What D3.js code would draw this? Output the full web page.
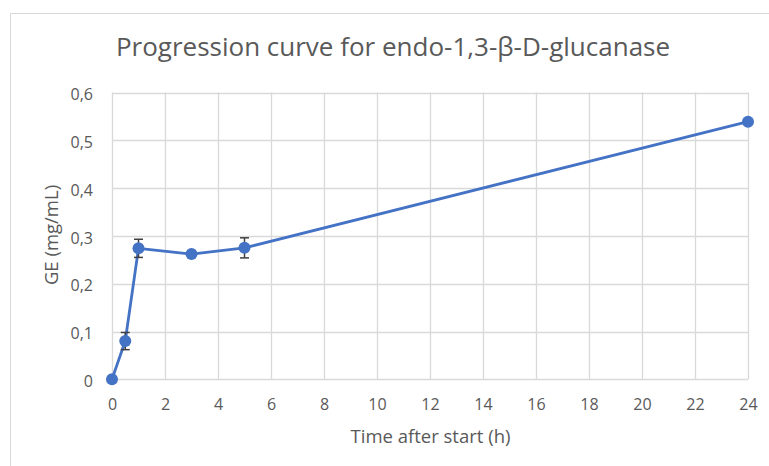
<!DOCTYPE html>
<html>
<head>
<meta charset="utf-8">
<script src="https://cdn.jsdelivr.net/npm/d3@7"></script>
<style>
  html, body { margin: 0; padding: 0; background: #fff; }
  svg { display: block; font-family: "Open Sans", "Noto Sans", sans-serif; }
</style>
</head>
<body>
<svg id="chart" width="769" height="466"></svg>
<script>
// Measurements of GE released over time
const times = [0, 0.5, 1, 3, 5, 24];
const geValues = [0, 0.08, 0.274, 0.262, 0.275, 0.539];
const geErrors = [0, 0.018, 0.019, 0, 0.021, 0];
const xTicks = [0, 2, 4, 6, 8, 10, 12, 14, 16, 18, 20, 22, 24];
const yTicks = [0, 0.1, 0.2, 0.3, 0.4, 0.5, 0.6];

const titleText = "Progression curve for endo-1,3-β-D-glucanase";
const xTitle = "Time after start (h)";
const yTitle = "GE (mg/mL)";

const svg = d3.select("#chart");
const textColor = "#595959";
const gridColor = "#d9d9d9";
const lineColor = "#4472c4";
const font = '"Open Sans", sans-serif';

// Outer chart frame
svg.append("path")
  .attr("d", "M10.5,470 V13.5 H780")
  .attr("fill", "none")
  .attr("stroke", gridColor)
  .attr("stroke-width", 1);

const x = d3.scaleLinear().domain([0, 24]).range([112, 748]);
const y = d3.scaleLinear().domain([0, 0.6]).range([379.3, 92.5]);

const fmt = d => d === 0 ? "0" : d3.format(".1f")(d).replace(".", ",");

// Gridlines
svg.append("g").selectAll("line").data(yTicks).join("line")
  .attr("x1", x(0)).attr("x2", x(24))
  .attr("y1", d => Math.round(y(d)) + 0.5).attr("y2", d => Math.round(y(d)) + 0.5)
  .attr("stroke", gridColor).attr("stroke-width", 1.3);
svg.append("g").selectAll("line").data(xTicks).join("line")
  .attr("y1", y(0)).attr("y2", y(0.6))
  .attr("x1", d => Math.round(x(d)) + 0.5).attr("x2", d => Math.round(x(d)) + 0.5)
  .attr("stroke", gridColor).attr("stroke-width", 1.3);

// Axes built from the scales, domain lines removed to keep the light grid look
const xAxis = svg.append("g")
  .attr("transform", `translate(0,${y(0)})`)
  .call(d3.axisBottom(x).tickValues(xTicks).tickSize(0).tickPadding(0).tickFormat(d3.format("d")));
const yAxis = svg.append("g")
  .attr("transform", `translate(${x(0)},0)`)
  .call(d3.axisLeft(y).tickValues(yTicks).tickSize(0).tickPadding(19).tickFormat(fmt));
[xAxis, yAxis].forEach(g => {
  g.select(".domain").remove();
  g.attr("font-size", null).attr("font-family", null);
  g.selectAll("text").attr("fill", textColor)
    .style("font-size", "16px").style("font-family", font);
});
xAxis.selectAll("text").attr("y", 31).attr("dy", null);
yAxis.selectAll("text").attr("dy", "0.45em");

// Title and axis titles
svg.append("text")
  .attr("x", 393).attr("y", 56)
  .attr("text-anchor", "middle")
  .attr("fill", textColor)
  .style("font-size", "26px")
  .text(titleText);
svg.append("text")
  .attr("x", 430.5).attr("y", 443)
  .attr("text-anchor", "middle")
  .attr("fill", textColor)
  .style("font-size", "18.5px")
  .text(xTitle);
svg.append("text")
  .attr("transform", `translate(58,235) rotate(-90)`)
  .attr("text-anchor", "middle")
  .attr("fill", textColor)
  .style("font-size", "18.5px")
  .text(yTitle);

const data = times.map((t, i) => ({ t, v: geValues[i], e: geErrors[i] }));

// Series line
svg.append("path")
  .datum(data)
  .attr("fill", "none")
  .attr("stroke", lineColor)
  .attr("stroke-width", 2.8)
  .attr("stroke-linejoin", "round")
  .attr("d", d3.line().x(d => x(d.t)).y(d => y(d.v)));

// Error bars
const errG = svg.append("g").attr("stroke", "#404040").attr("stroke-width", 1.5);
data.filter(d => d.e > 0).forEach(d => {
  const cx = x(d.t);
  errG.append("line").attr("x1", cx).attr("x2", cx).attr("y1", y(d.v - d.e)).attr("y2", y(d.v + d.e));
  [d.v - d.e, d.v + d.e].forEach(v => {
    errG.append("line").attr("x1", cx - 4.5).attr("x2", cx + 4.5).attr("y1", y(v)).attr("y2", y(v));
  });
});

// Markers
svg.append("g").selectAll("circle").data(data).join("circle")
  .attr("cx", d => x(d.t)).attr("cy", d => y(d.v))
  .attr("r", 6)
  .attr("fill", lineColor);
</script>
</body>
</html>
